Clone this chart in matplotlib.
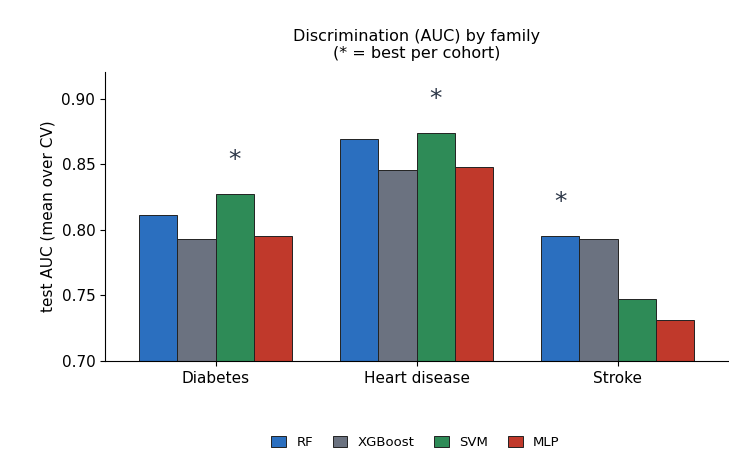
import matplotlib
matplotlib.use("Agg")
import matplotlib.pyplot as plt
import numpy as np

cohorts = ["Diabetes", "Heart disease", "Stroke"]
models = ["RF", "XGBoost", "SVM", "MLP"]
auc = {
    "RF": [0.811, 0.869, 0.795],
    "XGBoost": [0.793, 0.846, 0.793],
    "SVM": [0.827, 0.874, 0.747],
    "MLP": [0.795, 0.848, 0.731],
}
colors = ["#2b6fbf", "#6b7280", "#2e8b57", "#c0392b"]

fig = plt.figure(figsize=(7.29, 4.61), dpi=100)
ax = fig.add_axes([0.144, 0.217, 0.855, 0.627])
x = np.arange(len(cohorts))
w = 0.19
for i, m in enumerate(models):
    ax.bar(x + (i - 1.5) * w, auc[m], w, color=colors[i], edgecolor="#222222",
           linewidth=0.7, label=m)
for j in range(len(cohorts)):
    vals = [auc[m][j] for m in models]
    b = int(np.argmax(vals))
    ax.text(x[j] + (b - 1.5) * w, vals[b] + 0.017, "*", ha="center", va="bottom",
            fontsize=18, color="#2d3748")
ax.set_ylim(0.70, 0.9205)
ax.set_xlim(-0.55, 2.55)
ax.set_yticks([0.70, 0.75, 0.80, 0.85, 0.90])
ax.set_yticklabels(["0.70", "0.75", "0.80", "0.85", "0.90"])
ax.set_xticks(x)
ax.set_xticklabels(cohorts)
ax.tick_params(labelsize=11)
ax.set_ylabel("test AUC (mean over CV)", fontsize=11)
ax.set_title("Discrimination (AUC) by family\n(* = best per cohort)", fontsize=11.5, pad=10)
ax.spines["top"].set_visible(False)
ax.spines["right"].set_visible(False)
fig.legend(loc="lower center", ncol=4, frameon=False, fontsize=9.5,
           bbox_to_anchor=(0.57, 0.0), handlelength=1.1, handleheight=0.8, columnspacing=1.5)
fig.savefig("out.png", dpi=100)
